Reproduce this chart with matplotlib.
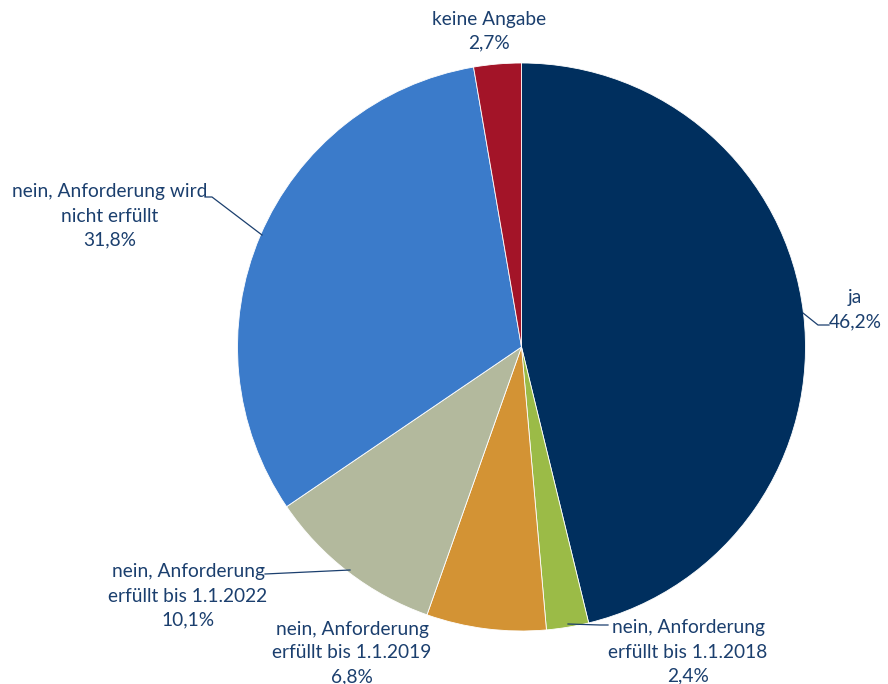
import matplotlib
matplotlib.use("Agg")
import matplotlib.pyplot as plt

labels = ["ja", "nein, Anforderung\nerfüllt bis 1.1.2018", "nein, Anforderung\nerfüllt bis 1.1.2019",
          "nein, Anforderung\nerfüllt bis 1.1.2022", "nein, Anforderung wird\nnicht erfüllt", "keine Angabe"]
values = [46.2, 2.4, 6.8, 10.1, 31.8, 2.7]
value_labels = ["46,2%", "2,4%", "6,8%", "10,1%", "31,8%", "2,7%"]
colors = ["#002F5E", "#9BBB47", "#D39334", "#B3B99D", "#3B7BCA", "#A31428"]

W, H = 888, 684
fig = plt.figure(figsize=(W / 100, H / 100), dpi=100)
ax = fig.add_axes([0, 0, 1, 1])
ax.set_xlim(0, W)
ax.set_ylim(0, H)
ax.set_aspect("equal")
ax.axis("off")

cx, cy, r = 521.5, H - 347, 284
ax.pie(values, colors=colors, startangle=90, counterclock=False, radius=r, center=(cx, cy),
       wedgeprops=dict(edgecolor="white", linewidth=0.6), frame=True)
ax.set_xlim(0, W)
ax.set_ylim(0, H)
ax.axis("off")

tc = "#1B3F6E"
fs = 13.8
fam = ["Lato", "DejaVu Sans"]
# label positions (pixel, top-origin)
pos = [(855, 310), (688, 652), (352, 653), (188, 596), (110, 216), (489, 31)]
for lab, vl, (x, y) in zip(labels, value_labels, pos):
    ax.text(x, H - y, lab + "\n" + vl, ha="center", va="center", color=tc, fontsize=fs,
            family=fam, linespacing=1.5)

# leader lines
leaders = [
    [(803, 313), (818, 325), (829, 325)],
    [(568, 624), (600, 625), (608, 625)],
    [(350, 570), (265, 574)],
    [(262, 235), (212, 197), (205, 197)],
]
for pts in leaders:
    xs = [p[0] for p in pts]
    ys = [H - p[1] for p in pts]
    ax.plot(xs, ys, color=tc, linewidth=0.9)

fig.savefig("out.png", dpi=100)
